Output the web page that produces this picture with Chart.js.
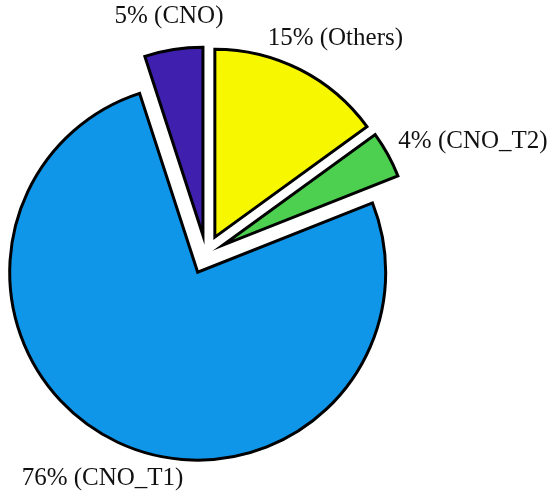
<!DOCTYPE html>
<html>
<head>
<meta charset="utf-8">
<script src="https://cdn.jsdelivr.net/npm/chart.js@4"></script>
<style>
    html, body { margin: 0; padding: 0; background: #fff; }
    #wrap { width: 550px; height: 498px; }
</style>
</head>
<body>
<div id="wrap"><canvas id="pieChart" width="550" height="498"></canvas></div>
<script>
// Share of each class (clockwise from 12 o'clock)
const categories = ['Others', 'CNO_T2', 'CNO_T1', 'CNO'];
const shares = [15, 4, 76, 5];
const sliceColors = ['#f7f700', '#4dd04f', '#0f96e8', '#3f1fae'];

// Pull every slice out from the centre by the same distance
const explodePlugin = {
    id: 'explode',
    beforeDatasetsDraw(chart, args, opts) {
        const ctx = chart.ctx;
        chart.getDatasetMeta(0).data.forEach(arc => {
            const mid = (arc.startAngle + arc.endAngle) / 2;
            ctx.save();
            ctx.translate(Math.cos(mid) * opts.distance, Math.sin(mid) * opts.distance);
            arc.draw(ctx);
            ctx.restore();
        });
        return false; // skip the default (non-exploded) drawing
    }
};

// Outside labels: "NN% (name)"
const sliceLabels = {
    id: 'sliceLabels',
    afterDraw(chart, args, opts) {
        const ctx = chart.ctx;
        const meta = chart.getDatasetMeta(0);
        ctx.save();
        ctx.font = opts.font;
        ctx.fillStyle = opts.color;
        ctx.textAlign = 'center';
        ctx.textBaseline = 'middle';
        meta.data.forEach((arc, i) => {
            const mid = (arc.startAngle + arc.endAngle) / 2;
            const r = arc.outerRadius + opts.gap;
            const nudge = opts.nudge[i] || [0, 0];
            const x = arc.x + Math.cos(mid) * r + nudge[0];
            const y = arc.y + Math.sin(mid) * r + nudge[1];
            ctx.fillText(shares[i] + '% (' + categories[i] + ')', x, y);
        });
        ctx.restore();
    }
};

new Chart(document.getElementById('pieChart'), {
    type: 'pie',
    data: {
        labels: categories,
        datasets: [{
            data: shares,
            backgroundColor: sliceColors,
            borderColor: '#000',
            borderWidth: 3,
            borderJoinStyle: 'miter',
            radius: 188,
            offset: 0,
            hoverOffset: 0
        }]
    },
    options: {
        responsive: false,
        animation: false,
        events: [],
        layout: {
            padding: { left: 0, right: 138, top: 11, bottom: 0 }
        },
        plugins: {
            legend: { display: false },
            tooltip: { enabled: false },
            explode: { distance: 19.5 },
            sliceLabels: {
                font: '25px "Liberation Serif", "Times New Roman", serif',
                color: '#111',
                gap: 55,
                nudge: [[19, 0], [54, 4], [0, 4.5], [1, 1.5]]
            }
        }
    },
    plugins: [explodePlugin, sliceLabels]
});
</script>
</body>
</html>
